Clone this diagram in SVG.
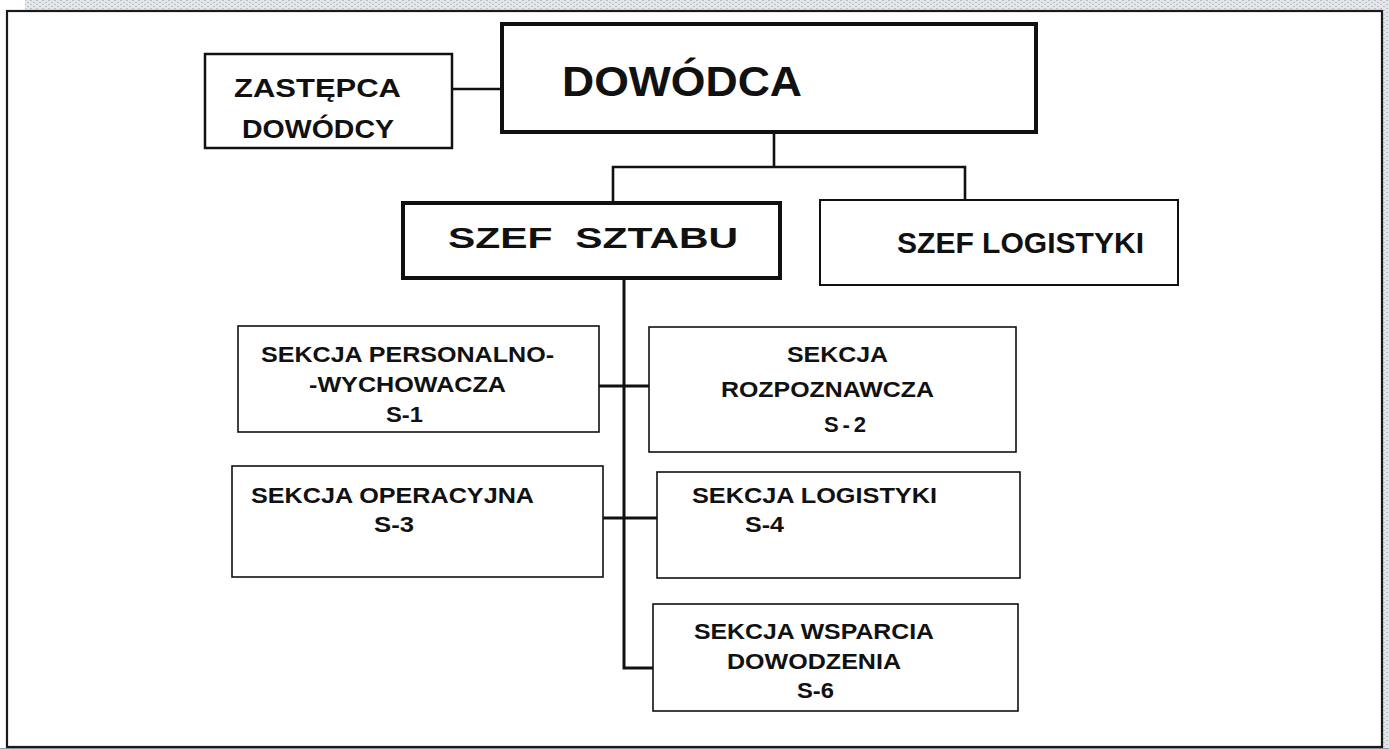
<svg xmlns="http://www.w3.org/2000/svg" width="1389" height="749" viewBox="0 0 1389 749">
  <defs>
    <pattern id="grain" width="6" height="4" patternUnits="userSpaceOnUse">
      <rect width="6" height="4" fill="#e4e7ea"/>
      <rect x="0" y="0" width="2" height="1" fill="#b9bec5"/>
      <rect x="3" y="2" width="2" height="1" fill="#b9bec5"/>
    </pattern>
  </defs>
  <style>
    text { font-family: "Liberation Sans", Arial, sans-serif; font-weight: bold; fill: #111; }
    .box { fill: #fff; stroke: #111; }
    .heavy { stroke-width: 4; }
    .mid { stroke-width: 2.5; }
    .thin { stroke-width: 1.6; }
    .line { stroke: #111; fill: none; stroke-width: 2.6; }
    .trunk { stroke: #111; fill: none; stroke-width: 3; }
    .sec { font-size: 22px; }
  </style>

  <!-- page background and outer frame -->
  <rect width="1389" height="749" fill="#fff"/>
  <rect x="25" y="0" width="1364" height="10" fill="url(#grain)"/>
  <rect x="1383" y="0" width="6" height="749" fill="url(#grain)"/>
  <rect x="0" y="748" width="1389" height="1" fill="#9a9ea4"/>
  <rect x="7" y="11" width="1375" height="736" fill="none" stroke="#1a1a1a" stroke-width="2.2"/>

  <!-- connectors -->
  <g id="connectors">
    <line class="line" x1="452" y1="89" x2="502" y2="89"/>
    <polyline class="line" points="774,132 774,167"/>
    <polyline class="line" points="613,203 613,167 965,167 965,200"/>
    <polyline class="trunk" points="624,278 624,668 653,668"/>
    <line class="trunk" x1="599" y1="386" x2="649" y2="386"/>
    <line class="trunk" x1="603" y1="518" x2="657" y2="518"/>
  </g>

  <g id="node-zastepca">
    <rect class="box mid" x="205" y="54" width="247" height="94"/>
    <text x="234" y="97" font-size="26" textLength="167" lengthAdjust="spacingAndGlyphs">ZASTĘPCA</text>
    <text x="242" y="138" font-size="26" textLength="152" lengthAdjust="spacingAndGlyphs">DOWÓDCY</text>
  </g>

  <g id="node-dowodca">
    <rect class="box heavy" x="502" y="24" width="534" height="108"/>
    <text x="562" y="96" font-size="43" textLength="240" lengthAdjust="spacingAndGlyphs">DOWÓDCA</text>
  </g>

  <g id="node-szef-sztabu">
    <rect class="box heavy" x="403" y="203" width="377" height="75"/>
    <text x="448" y="248" font-size="30" xml:space="preserve" textLength="290" lengthAdjust="spacingAndGlyphs">SZEF  SZTABU</text>
  </g>

  <g id="node-szef-logistyki">
    <rect class="box" stroke-width="2" x="820" y="200" width="358" height="85"/>
    <text x="897" y="253" font-size="29.5" textLength="247" lengthAdjust="spacingAndGlyphs">SZEF LOGISTYKI</text>
  </g>

  <g id="node-s1">
    <rect class="box thin" x="238" y="326" width="361" height="106"/>
    <text class="sec" x="261" y="362" textLength="293" lengthAdjust="spacingAndGlyphs">SEKCJA PERSONALNO-</text>
    <text class="sec" x="309" y="392" textLength="197" lengthAdjust="spacingAndGlyphs">-WYCHOWACZA</text>
    <text class="sec" x="386" y="422" textLength="37" lengthAdjust="spacingAndGlyphs">S-1</text>
  </g>

  <g id="node-s2">
    <rect class="box thin" x="649" y="327" width="367" height="125"/>
    <text class="sec" x="787" y="362" textLength="101" lengthAdjust="spacingAndGlyphs">SEKCJA</text>
    <text class="sec" x="721" y="397" textLength="213" lengthAdjust="spacingAndGlyphs">ROZPOZNAWCZA</text>
    <text class="sec" x="824" y="432" textLength="42" lengthAdjust="spacing">S-2</text>
  </g>

  <g id="node-s3">
    <rect class="box thin" x="232" y="466" width="371" height="111"/>
    <text class="sec" x="251" y="503" textLength="283" lengthAdjust="spacingAndGlyphs">SEKCJA OPERACYJNA</text>
    <text class="sec" x="374" y="532" textLength="40" lengthAdjust="spacingAndGlyphs">S-3</text>
  </g>

  <g id="node-s4">
    <rect class="box thin" x="657" y="472" width="363" height="106"/>
    <text class="sec" x="692" y="503" textLength="245" lengthAdjust="spacingAndGlyphs">SEKCJA LOGISTYKI</text>
    <text class="sec" x="745" y="532" textLength="39" lengthAdjust="spacingAndGlyphs">S-4</text>
  </g>

  <g id="node-s6">
    <rect class="box thin" x="653" y="604" width="365" height="107"/>
    <text class="sec" x="694" y="639" textLength="240" lengthAdjust="spacingAndGlyphs">SEKCJA WSPARCIA</text>
    <text class="sec" x="727" y="669" textLength="174" lengthAdjust="spacingAndGlyphs">DOWODZENIA</text>
    <text class="sec" x="797" y="698" textLength="37" lengthAdjust="spacingAndGlyphs">S-6</text>
  </g>
</svg>
